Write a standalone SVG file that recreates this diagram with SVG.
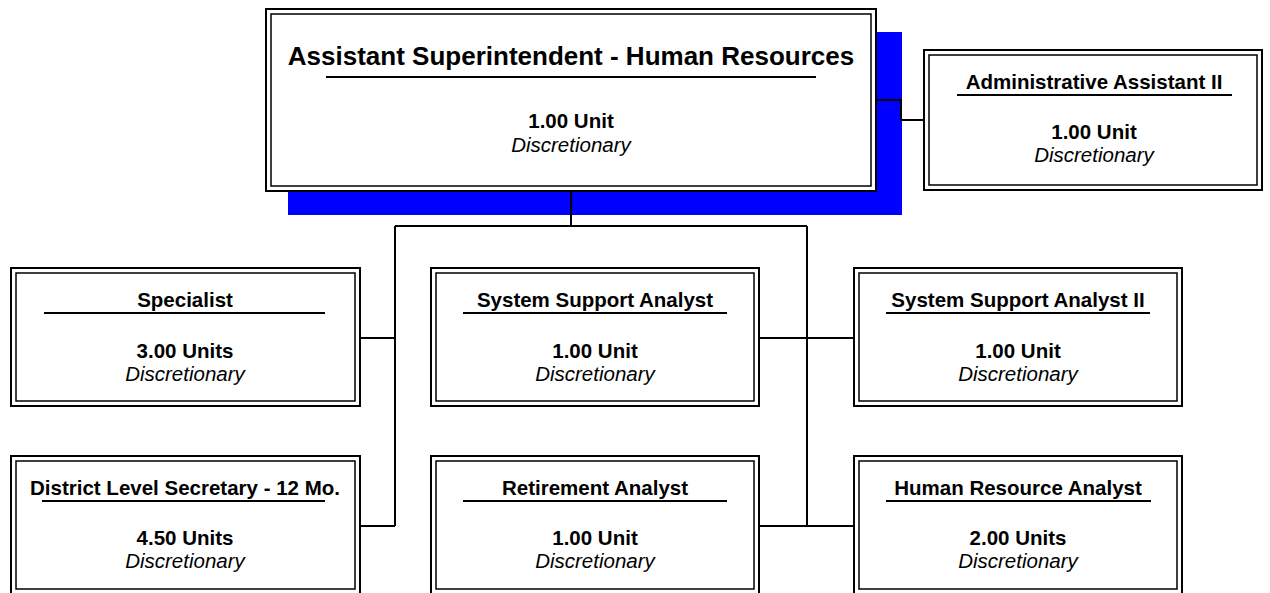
<svg xmlns="http://www.w3.org/2000/svg" width="1270" height="593" viewBox="0 0 1270 593">
<style>
.o{fill:#fff;stroke:#000;stroke-width:2}
.i{fill:none;stroke:#000;stroke-width:1.5}
.u{stroke:#000;stroke-width:2}
.t{font-family:"Liberation Sans",Arial,sans-serif;font-weight:bold;font-size:20.5px;text-anchor:middle;fill:#000}
.b{font-family:"Liberation Sans",Arial,sans-serif;font-weight:bold;font-size:20.5px;text-anchor:middle;fill:#000}
.d{font-family:"Liberation Sans",Arial,sans-serif;font-style:italic;font-size:20.5px;text-anchor:middle;fill:#000}
.c{fill:none;stroke:#000;stroke-width:2}
</style>
<rect x="288" y="32" width="614" height="183" fill="#0000ff"/>
<g id="connectors">
<path class="c" d="M571 191V226M395 226H807M395 226V526M360 338H395M360 526H395M807 226V526M759 338H854M759 526H854M876 100H901V120H924"/>
</g>
<g id="node-top">
<rect class="o" x="266" y="9" width="610" height="182"/>
<rect class="i" x="271" y="14" width="600" height="172"/>
<text class="t" x="571" y="65" style="font-size:26px">Assistant Superintendent - Human Resources</text>
<line class="u" x1="326" y1="77" x2="816" y2="77"/>
<text class="b" x="571" y="128">1.00 Unit</text>
<text class="d" x="571" y="152">Discretionary</text>
</g>
<g id="node-admin">
<rect class="o" x="924" y="50" width="338" height="140"/>
<rect class="i" x="929" y="55" width="328" height="130"/>
<text class="t" x="1094" y="89">Administrative Assistant II</text>
<line class="u" x1="957" y1="95" x2="1232" y2="95"/>
<text class="b" x="1094" y="139">1.00 Unit</text>
<text class="d" x="1094" y="162">Discretionary</text>
</g>
<g id="node-specialist">
<rect class="o" x="11" y="268" width="349" height="138"/>
<rect class="i" x="16" y="273" width="339" height="128"/>
<text class="t" x="185" y="307">Specialist</text>
<line class="u" x1="44" y1="313" x2="325" y2="313"/>
<text class="b" x="185" y="358">3.00 Units</text>
<text class="d" x="185" y="381">Discretionary</text>
</g>
<g id="node-ssa">
<rect class="o" x="431" y="268" width="328" height="138"/>
<rect class="i" x="436" y="273" width="318" height="128"/>
<text class="t" x="595" y="307">System Support Analyst</text>
<line class="u" x1="463" y1="313" x2="727" y2="313"/>
<text class="b" x="595" y="358">1.00 Unit</text>
<text class="d" x="595" y="381">Discretionary</text>
</g>
<g id="node-ssa2">
<rect class="o" x="854" y="268" width="328" height="138"/>
<rect class="i" x="859" y="273" width="318" height="128"/>
<text class="t" x="1018" y="307">System Support Analyst II</text>
<line class="u" x1="886" y1="313" x2="1150" y2="313"/>
<text class="b" x="1018" y="358">1.00 Unit</text>
<text class="d" x="1018" y="381">Discretionary</text>
</g>
<g id="node-district">
<rect class="o" x="11" y="456" width="349" height="138"/>
<rect class="i" x="16" y="461" width="339" height="128"/>
<text class="t" x="185" y="495">District Level Secretary - 12 Mo.</text>
<line class="u" x1="42" y1="501" x2="325" y2="501"/>
<text class="b" x="185" y="545">4.50 Units</text>
<text class="d" x="185" y="568">Discretionary</text>
</g>
<g id="node-retirement">
<rect class="o" x="431" y="456" width="328" height="138"/>
<rect class="i" x="436" y="461" width="318" height="128"/>
<text class="t" x="595" y="495">Retirement Analyst</text>
<line class="u" x1="463" y1="501" x2="727" y2="501"/>
<text class="b" x="595" y="545">1.00 Unit</text>
<text class="d" x="595" y="568">Discretionary</text>
</g>
<g id="node-hr">
<rect class="o" x="854" y="456" width="328" height="138"/>
<rect class="i" x="859" y="461" width="318" height="128"/>
<text class="t" x="1018" y="495">Human Resource Analyst</text>
<line class="u" x1="886" y1="501" x2="1151" y2="501"/>
<text class="b" x="1018" y="545">2.00 Units</text>
<text class="d" x="1018" y="568">Discretionary</text>
</g>
</svg>
